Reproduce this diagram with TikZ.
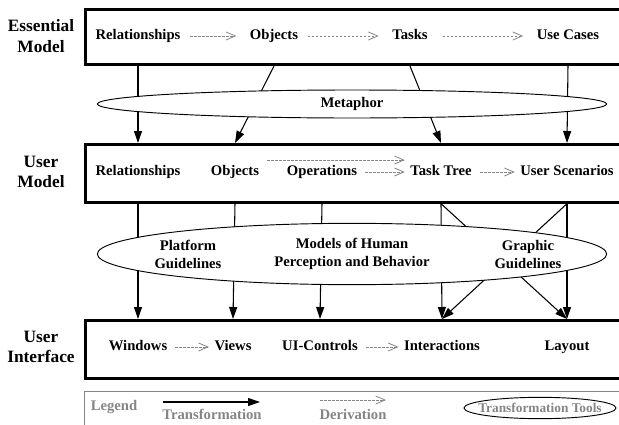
\documentclass[tikz,border=0pt]{standalone}
\usepackage{fontspec}
\setmainfont{Liberation Serif}
\usetikzlibrary{arrows.meta}
\usetikzlibrary{shapes.geometric}

\tikzset{
  layer/.style={draw, line width=2pt, anchor=north west, minimum width=430pt, inner sep=0pt},
  item/.style={font=\fontsize{11}{13}\selectfont\bfseries, text height=7.5pt, text depth=2pt, inner sep=2pt},
  guide/.style={font=\fontsize{11}{13.5}\selectfont\bfseries, align=center, inner sep=0pt},
  side/.style={font=\fontsize{13}{15.5}\selectfont\bfseries, align=center, inner sep=0pt},
  note/.style={font=\fontsize{11}{13}\selectfont\bfseries, text=black!48, inner sep=0pt},
  trans/.style={line width=0.8pt, -{Triangle[length=9pt,width=6pt]}},
  deriv/.style={draw=black!48, line width=0.6pt, dash pattern=on 2pt off 1pt, shorten <=4pt, shorten >=2pt, -{Straight Barb[length=7pt,width=6pt]}},
  tool/.style={draw, ellipse, fill=white, line width=0.7pt, inner sep=0pt, font=\fontsize{11}{13.5}\selectfont\bfseries, align=center},
}

\begin{document}
\begin{tikzpicture}[x=0.75pt,y=-0.75pt]
\useasboundingbox (0,0) rectangle (619,425);
\clip (0,0) rectangle (619,425);

\node[layer, minimum height=41.5pt] (em) at (84,8) {};
\node[layer, minimum height=43.5pt] (um) at (84,143) {};
\node[layer, minimum height=43.5pt] (ui) at (84,319) {};

\node[side] (lem) at (41,36) {Essential\\Model};
\node[side] (lum) at (41,172) {User\\Model};
\node[side] (lui) at (41,347) {User\\Interface};

\node[item] (rel1) at (138,36) {Relationships};
\node[item] (obj1) at (274,36) {Objects};
\node[item] (task1) at (410,36) {Tasks};
\node[item] (use1) at (568,36) {Use Cases};

\node[item] (rel2) at (138,172) {Relationships};
\node[item] (obj2) at (235,172) {Objects};
\node[item] (ops2) at (322,172) {Operations};
\node[item] (tree2) at (441,172) {Task Tree};
\node[item] (scen2) at (567,172) {User Scenarios};

\node[item] (win3) at (138,347) {Windows};
\node[item] (view3) at (233,347) {Views};
\node[item] (ctrl3) at (320,347) {UI-Controls};
\node[item] (act3) at (442,347) {Interactions};
\node[item] (lay3) at (567,347) {Layout};

\draw[deriv, shorten <=5pt, shorten >=8pt] (rel1.east) -- (obj1.west);
\draw[deriv, shorten <=5pt, shorten >=8pt] (obj1.east) -- (task1.west);
\draw[deriv, shorten <=9pt, shorten >=8pt] (task1.east) -- (use1.west);
\draw[deriv] ([yshift=2pt]obj2.north east) -- ([yshift=2pt]tree2.north west);
\draw[deriv] (ops2.east) -- (tree2.west);
\draw[deriv] (tree2.east) -- (scen2.west);
\draw[deriv] (win3.east) -- (view3.west);
\draw[deriv] (ctrl3.east) -- (act3.west);

\draw[trans] (rel1 |- em.south) -- (rel2 |- um.north);
\draw[trans] (obj1 |- em.south) -- (obj2 |- um.north);
\draw[trans] (task1 |- em.south) -- (tree2 |- um.north);
\draw[trans] (use1 |- em.south) -- (scen2 |- um.north);

\draw[trans] (rel2 |- um.south) -- (win3 |- ui.north);
\draw[trans] (obj2 |- um.south) -- (view3 |- ui.north);
\draw[trans] (ops2 |- um.south) -- (ctrl3 |- ui.north);
\draw[trans] (tree2 |- um.south) -- (act3 |- ui.north);
\draw[trans] (tree2 |- um.south) -- (lay3 |- ui.north);
\draw[trans] (scen2 |- um.south) -- (act3 |- ui.north);
\draw[trans] (scen2 |- um.south) -- (lay3 |- ui.north);

\node[tool, minimum width=382pt, minimum height=21pt] (meta) at (352,104) {Metaphor};
\node[tool, minimum width=382pt, minimum height=46pt] (human) at (352,254) {Models of Human\\Perception and Behavior};
\node[guide] (plat) at (188,254) {Platform\\Guidelines};
\node[guide] (graph) at (528,254) {Graphic\\Guidelines};

\node[draw=black!48, line width=0.8pt, anchor=north west, minimum width=430pt, minimum height=40pt, inner sep=0pt] (leg) at (84,391) {};
\node[note] (legtxt) at (114,407) {Legend};
\coordinate (ta) at (163,402);
\coordinate (tb) at (260,402);
\draw[trans] (ta) -- (tb);
\node[note] (transtxt) at (212,414) {Transformation};
\coordinate (da) at (320,400);
\coordinate (db) at (386,400);
\draw[deriv, shorten <=0pt, shorten >=0pt] (da) -- (db);
\node[note] (derivtxt) at (353,414) {Derivation};
\node[note, font=\fontsize{10}{12}\selectfont\bfseries] (tools) at (540,408) {Transformation Tools};
\draw[line width=0.7pt] (tools.center) ellipse [x radius=57pt, y radius=8pt];
\end{tikzpicture}
\end{document}
